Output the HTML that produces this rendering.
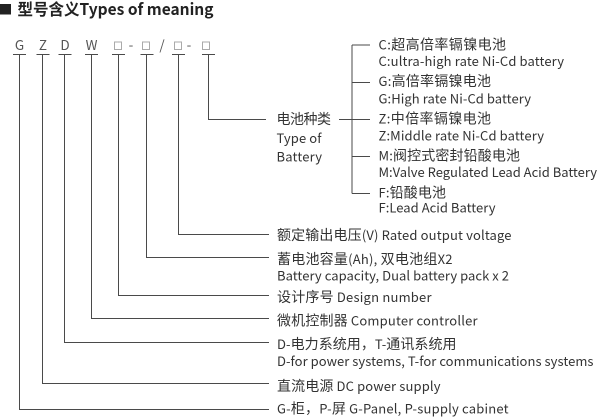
<!DOCTYPE html>
<html><head><meta charset="utf-8"><style>
html,body{margin:0;padding:0;background:#fff;}
svg{display:block;}
text{font-family:"Noto Sans CJK SC","Liberation Sans",sans-serif;}
.c{font-size:14px;}
</style></head><body>
<svg width="600" height="417" viewBox="0 0 600 417" xmlns="http://www.w3.org/2000/svg" xml:space="preserve">
<rect x="0" y="4" width="11" height="10.5" fill="#222"/>
<text x="17.5" y="15" font-size="16" font-weight="bold" fill="#222" textLength="196" lengthAdjust="spacingAndGlyphs">型号含义Types of meaning</text>

<g font-size="13.5" fill="#555" text-anchor="middle">
<text x="19.5" y="50">G</text>
<text x="43" y="50">Z</text>
<text x="65" y="50">D</text>
<text x="91.5" y="50">W</text>
<text x="131" y="50">-</text>
<text x="162" y="50">/</text>
<text x="189" y="50">-</text>
</g>
<g fill="none" stroke="#aaa" stroke-width="1">
<rect x="114.5" y="42" width="7" height="7.5"/>
<rect x="142.5" y="42" width="7" height="7.5"/>
<rect x="174.5" y="42" width="7" height="7.5"/>
<rect x="202.5" y="42" width="7" height="7.5"/>
</g>

<g stroke="#4a4a4a" stroke-width="1" fill="none">
<line x1="13" y1="54.5" x2="26" y2="54.5"/>
<line x1="36.5" y1="54.5" x2="49.5" y2="54.5"/>
<line x1="58.5" y1="54.5" x2="71.5" y2="54.5"/>
<line x1="85" y1="54.5" x2="98" y2="54.5"/>
<line x1="112" y1="54.5" x2="125" y2="54.5"/>
<line x1="140.5" y1="54.5" x2="153.5" y2="54.5"/>
<line x1="172" y1="54.5" x2="185" y2="54.5"/>
<line x1="202" y1="54.5" x2="215" y2="54.5"/>

<polyline points="19.5,54.5 19.5,409.5 269,409.5"/>
<polyline points="42.5,54.5 42.5,383.5 269,383.5"/>
<polyline points="64.5,54.5 64.5,342.5 269,342.5"/>
<polyline points="91.5,54.5 91.5,318.5 269,318.5"/>
<polyline points="118.5,54.5 118.5,295.5 269,295.5"/>
<polyline points="146.5,54.5 146.5,257.5 269,257.5"/>
<polyline points="178.5,54.5 178.5,234.5 269,234.5"/>
<polyline points="208.5,54.5 208.5,119.5 266,119.5"/>

<line x1="339" y1="119.5" x2="370" y2="119.5"/>
<line x1="352" y1="45" x2="352" y2="193.5"/>
<line x1="352" y1="45" x2="370" y2="45"/>
<line x1="352" y1="82.5" x2="370" y2="82.5"/>
<line x1="352" y1="156.5" x2="370" y2="156.5"/>
<line x1="352" y1="193.5" x2="370" y2="193.5"/>
</g>

<g font-size="13" fill="#333">
<text x="276.5" y="124" textLength="54.5"><tspan class="c">电池种类</tspan></text>
<text x="276.5" y="143" textLength="45">Type of</text>
<text x="276.5" y="161.5" textLength="45.5">Battery</text>

<text x="378.5" y="49.5" textLength="127.5">C:<tspan class="c">超高倍率镉镍电池</tspan></text>
<text x="378.5" y="66" textLength="185.5">C:ultra-high rate Ni-Cd battery</text>
<text x="378.5" y="86" textLength="112.5">G:<tspan class="c">高倍率镉镍电池</tspan></text>
<text x="378.5" y="103.5" textLength="152.5">G:High rate Ni-Cd battery</text>
<text x="378.5" y="123.5" textLength="112.5">Z:<tspan class="c">中倍率镉镍电池</tspan></text>
<text x="378.5" y="140.5" textLength="165.5">Z:Middle rate Ni-Cd battery</text>
<text x="378.5" y="160.5" textLength="141.5">M:<tspan class="c">阀控式密封铅酸电池</tspan></text>
<text x="378.5" y="177" textLength="218.5">M:Valve Regulated Lead Acid Battery</text>
<text x="378.5" y="197.5" textLength="67.5">F:<tspan class="c">铅酸电池</tspan></text>
<text x="378.5" y="212.5" textLength="117">F:Lead Acid Battery</text>

<text x="277" y="240" textLength="234.5"><tspan class="c">额定输出电压</tspan>(V)  Rated output voltage</text>
<text x="277" y="264" textLength="175.5"><tspan class="c">蓄电池容量</tspan>(Ah), <tspan class="c">双电池组</tspan>X2</text>
<text x="277" y="280.5" textLength="232">Battery capacity, Dual battery pack x 2</text>
<text x="277" y="302" textLength="154.5"><tspan class="c">设计序号</tspan>  Design number</text>
<text x="277" y="325.5" textLength="200.5"><tspan class="c">微机控制器</tspan>  Computer controller</text>
<text x="277" y="349" textLength="179.5">D-<tspan class="c">电力系统用，</tspan>T-<tspan class="c">通讯系统用</tspan></text>
<text x="277" y="366" textLength="316.5">D-for power systems, T-for communications systems</text>
<text x="277" y="391" textLength="163.5"><tspan class="c">直流电源</tspan>  DC power supply</text>
<text x="277" y="413.5" textLength="231.5">G-<tspan class="c">柜，</tspan>P-<tspan class="c">屏</tspan>  G-Panel, P-supply cabinet</text>
</g>
</svg>
</body></html>
